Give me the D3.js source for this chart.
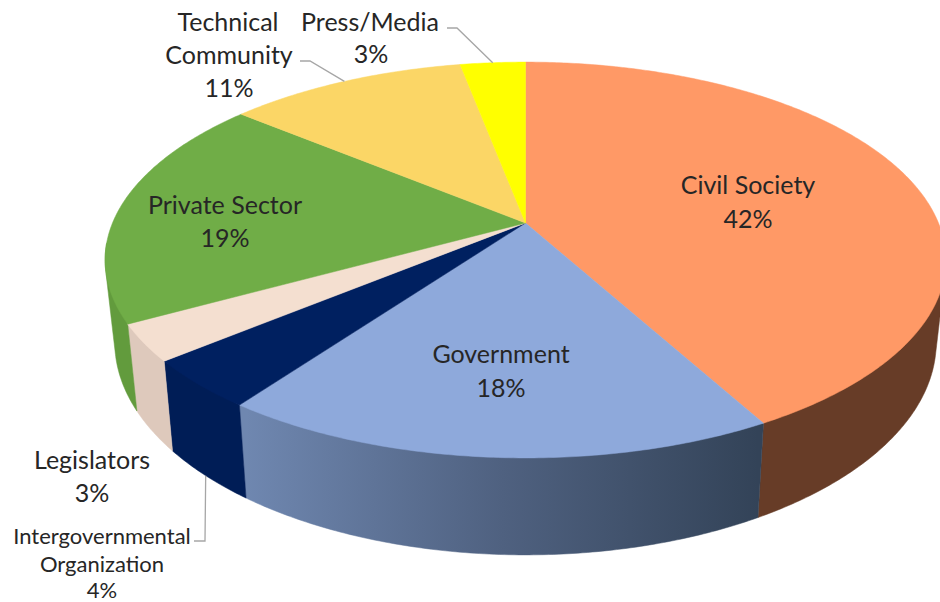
<!DOCTYPE html>
<html>
<head>
<meta charset="utf-8">
<script src="https://d3js.org/d3.v7.min.js"></script>
<style>
  html, body { margin: 0; padding: 0; background: #fff; }
  svg { display: block; }
  text { font-family: Lato, "Open Sans", sans-serif; fill: #262626; text-anchor: middle; }
</style>
</head>
<body>
<svg width="940" height="602"></svg>
<script>
// share of participants per stakeholder group, clockwise from 12 o'clock
var categories = ["Civil Society", "Government", "Intergovernmental Organization", "Legislators",
                  "Private Sector", "Technical Community", "Press/Media"];
var shares = [42, 18, 4, 3, 19, 11, 3];

var topColors  = ["#FF9966", "#8EA9DB", "#002060", "#F4DFD0", "#70AD47", "#FBD666", "#FFFF00"];
var sideColors = ["#673C27", "url(#govSide)", "#001D56", "#DEC9BC", "#629B3D", "#C9A94F", "#C9C900"];

// text blocks: one entry per line, x/y is the middle of the line
var labelLines = [
  {size: 25, lines: [["Civil Society", 748, 185], ["42%", 748, 219]]},
  {size: 25, lines: [["Government", 501, 354], ["18%", 501, 388]]},
  {size: 22, lines: [["Intergovernmental", 102, 536], ["Organization", 102, 564], ["4%", 102, 590]]},
  {size: 25, lines: [["Legislators", 92, 460], ["3%", 92, 493]]},
  {size: 25, lines: [["Private Sector", 225, 205], ["19%", 225, 238]]},
  {size: 25, lines: [["Technical", 228, 22], ["Community", 229, 55], ["11%", 229, 88]]},
  {size: 25, lines: [["Press/Media", 370, 22], ["3%", 371, 54]]}
];

var svg = d3.select("svg");

// perspective of the tilted disc: apex of the pie and how much the far side shrinks
var apex = {x: 525.5, y: 223},
    radiusX = 413,
    radiusY = 191,
    tilt = 0.187;

function projectTop(angle) {
  var u = Math.sin(angle), v = -Math.cos(angle), w = 1 - tilt * v;
  return [apex.x + radiusX * u / w, apex.y + radiusY * v / w];
}

// the lower rim of the disc is the top rim moved down, a bit more towards the viewer
function projectBottom(angle) {
  var p = projectTop(angle);
  return [apex.x + (p[0] - apex.x) * 0.977, p[1] + 87 + (p[1] - 325) * 0.075];
}

var pie = d3.pie().sort(null).value(function(d) { return d; });
var slices = pie(shares);

var line = d3.line();

function rimAngles(d) {
  var steps = Math.max(8, Math.ceil((d.endAngle - d.startAngle) * 100));
  return d3.range(steps + 1).map(function(i) {
    return d.startAngle + (d.endAngle - d.startAngle) * i / steps;
  });
}

// hull of both rims fills the sweep at the silhouette; the top faces cover the inner chord.
// the far side of the disc is hidden anyway and left out
function wallPath(d) {
  var angles = rimAngles(d).filter(function(a) { return -Math.cos(a) >= 0.1; });
  if (angles.length < 2) return null;
  return line(d3.polygonHull(angles.map(projectTop).concat(angles.map(projectBottom)))) + "Z";
}

var gradient = svg.append("defs").append("linearGradient")
    .attr("id", "govSide")
    .attr("gradientUnits", "userSpaceOnUse")
    .attr("x1", projectBottom(slices[1].endAngle)[0])
    .attr("x2", projectBottom(slices[1].startAngle)[0])
    .attr("y1", 0)
    .attr("y2", 0);
gradient.append("stop").attr("offset", "0%").attr("stop-color", "#6F87B0");
gradient.append("stop").attr("offset", "50%").attr("stop-color", "#4F6180");
gradient.append("stop").attr("offset", "100%").attr("stop-color", "#334358");

// walls first, the top faces then hide whatever lies behind the disc
svg.append("g").selectAll("path")
    .data(slices)
    .enter().append("path")
    .attr("d", wallPath)
    .attr("fill", function(d, i) { return sideColors[i]; })
    .attr("stroke", function(d, i) { return sideColors[i]; })
    .attr("stroke-width", 0.5);

svg.append("g").selectAll("path")
    .data(slices)
    .enter().append("path")
    .attr("d", function(d) {
      return line([[apex.x, apex.y]].concat(rimAngles(d).map(projectTop))) + "Z";
    })
    .attr("fill", function(d, i) { return topColors[i]; })
    .attr("stroke", function(d, i) { return topColors[i]; })
    .attr("stroke-width", 0.5);

function midAngle(d) { return (d.startAngle + d.endAngle) / 2; }

// leader lines of the three outside labels that have one
var leaders = [
  [projectBottom(midAngle(slices[2])), [205, 541], [194, 541]],
  [projectTop(midAngle(slices[5])), [310, 61], [300, 61]],
  [projectTop(midAngle(slices[6])), [457, 28], [447, 28]]
];

svg.append("g").selectAll("path")
    .data(leaders)
    .enter().append("path")
    .attr("d", line)
    .attr("fill", "none")
    .attr("stroke", "#A6A6A6")
    .attr("stroke-width", 1.3);

var labels = svg.append("g").selectAll("g")
    .data(labelLines)
    .enter().append("g")
    .style("font-size", function(d) { return d.size + "px"; });

labels.selectAll("text")
    .data(function(d) { return d.lines; })
    .enter().append("text")
    .attr("x", function(d) { return d[1]; })
    .attr("y", function(d) { return d[2]; })
    .attr("dy", "0.35em")
    .text(function(d) { return d[0]; });
</script>
</body>
</html>
